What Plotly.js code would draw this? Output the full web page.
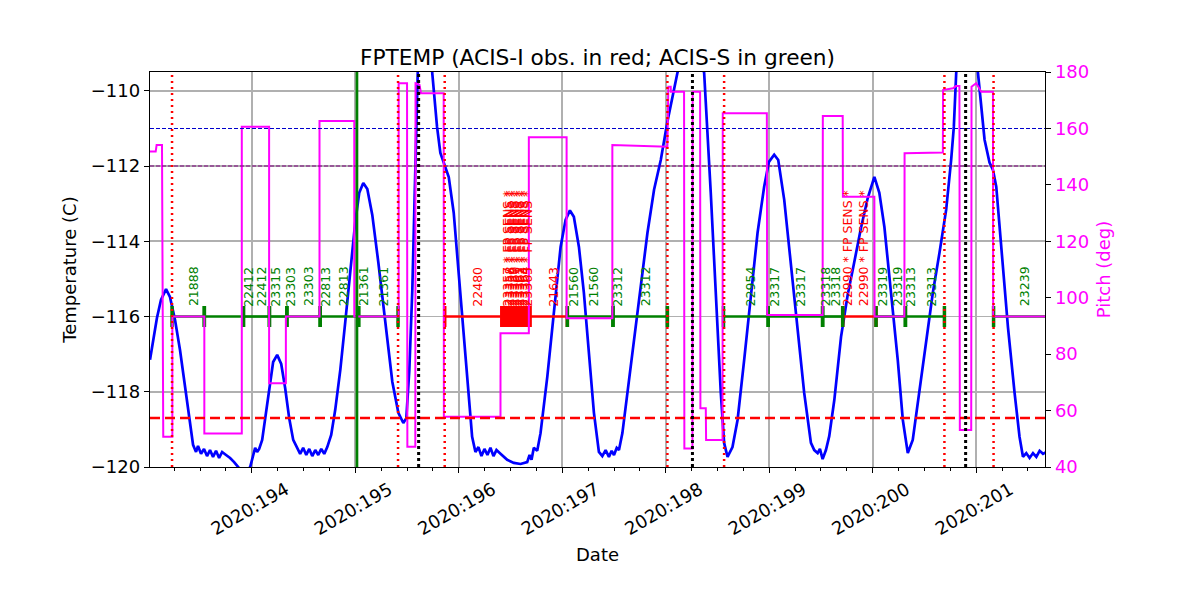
<!DOCTYPE html>
<html><head><meta charset="utf-8">
<script src="https://cdn.plot.ly/plotly-3.0.1.min.js"></script>
<style>body{margin:0;background:#fff}#chart{width:1200px;height:600px}</style>
</head><body><div id="chart"></div>
<script>
// ---- FPTEMP model (day of year 2020, deg C) ----
const tempDay = [193.016,193.045,193.083,193.122,193.171,193.209,193.258,193.306,193.354,193.403,193.432,
193.461,193.480,193.509,193.538,193.567,193.596,193.625,193.654,193.684,193.713,193.751,193.790,193.829,193.867,193.925,193.984,
194.013,194.032,194.051,194.071,194.100,194.138,194.177,194.206,194.245,194.284,194.322,194.361,194.400,194.438,
194.467,194.496,194.526,194.555,194.584,194.613,194.642,194.671,194.700,194.729,194.767,194.806,194.855,194.903,194.951,195.000,195.038,195.077,195.116,195.164,
195.222,195.290,195.358,195.416,195.464,195.493,195.522,195.551,195.580,195.609,195.668,195.716,195.745,195.790,195.822,195.871,195.903,195.951,196.016,196.081,196.129,196.161,
196.190,196.219,196.248,196.277,196.306,196.335,196.364,196.403,196.468,196.532,196.597,196.661,196.684,196.703,196.725,196.758,196.790,196.855,196.919,196.984,
197.032,197.074,197.112,197.161,197.209,197.258,197.306,197.354,
197.387,197.419,197.451,197.477,197.500,197.526,197.548,197.581,197.629,197.693,197.758,197.823,197.887,197.952,198.016,198.065,198.113,198.174,198.242,198.310,
198.371,198.435,198.484,198.532,198.564,198.597,198.645,198.694,198.758,198.823,198.887,198.951,198.997,199.048,199.087,199.145,199.210,199.275,199.338,199.403,
199.435,199.468,199.490,199.516,199.548,199.580,199.629,199.694,199.758,199.822,199.887,199.952,200.016,200.064,200.113,200.177,200.242,200.291,200.339,200.387,
200.451,200.516,200.581,200.645,200.710,200.758,200.784,200.807,200.855,200.913,200.971,201.017,201.049,201.081,201.129,201.162,201.194,201.242,201.307,201.371,
201.419,201.452,201.484,201.516,201.549,201.581,201.613,201.646,201.678];
const tempVal = [-117.15,-116.62,-116.04,-115.56,-115.27,-115.48,-116.09,-116.89,-117.82,-118.88,-119.41,
-119.60,-119.44,-119.65,-119.52,-119.71,-119.55,-119.73,-119.57,-119.76,-119.60,-119.68,-119.76,-119.87,-120.00,-120.19,-120.00,
-119.68,-119.49,-119.60,-119.52,-119.28,-118.54,-117.74,-117.21,-117.02,-117.26,-117.90,-118.70,-119.28,-119.49,
-119.65,-119.49,-119.68,-119.52,-119.71,-119.55,-119.68,-119.52,-119.65,-119.47,-119.15,-118.48,-117.42,-116.14,-114.76,-113.48,-112.71,-112.45,-112.61,-113.30,
-114.55,-116.22,-117.74,-118.56,-118.83,-118.70,-117.42,-115.29,-111.84,-108.91,-107.85,-108.64,-109.57,-110.96,-111.65,-112.05,-112.29,-113.24,-115.37,-117.61,-119.20,-119.60,
-119.47,-119.71,-119.52,-119.68,-119.49,-119.71,-119.55,-119.65,-119.81,-119.89,-119.92,-119.87,-119.68,-119.81,-119.49,-119.57,-119.10,-117.61,-115.82,-114.15,
-113.43,-113.18,-113.35,-114.15,-115.37,-116.97,-118.56,-119.60,
-119.71,-119.55,-119.73,-119.57,-119.68,-119.49,-119.55,-119.10,-118.03,-116.54,-115.11,-113.78,-112.63,-111.84,-110.82,-110.11,-109.52,-108.99,-108.78,-108.99,
-109.52,-112.71,-115.37,-118.03,-119.36,-119.73,-119.47,-118.75,-117.15,-115.37,-113.78,-112.55,-111.89,-111.70,-111.84,-112.90,-114.68,-116.44,-118.03,-119.36,
-119.55,-119.63,-119.52,-119.79,-119.55,-119.18,-118.22,-116.54,-115.43,-114.55,-113.64,-112.85,-112.29,-112.71,-113.62,-115.37,-117.15,-118.75,-119.63,-119.28,
-118.03,-116.70,-115.37,-114.31,-113.16,-111.84,-110.96,-109.52,-108.51,-108.11,-108.51,-109.52,-110.51,-111.30,-111.91,-112.10,-112.55,-114.04,-116.28,-118.03,
-119.20,-119.73,-119.63,-119.76,-119.63,-119.73,-119.57,-119.65,-119.60];

// ---- Pitch (deg) ----
const pitchDay = [193.016,193.071,193.080,193.132,193.144,193.232,193.232,193.541,193.541,193.903,193.903,194.167,194.167,194.329,194.329,194.654,194.654,194.990,194.990,
195.419,195.419,195.500,195.503,195.580,195.582,195.620,195.635,195.854,195.856,196.403,196.403,196.677,196.677,197.042,197.042,197.484,197.484,198.016,198.025,198.048,198.050,
198.177,198.180,198.258,198.260,198.332,198.335,198.387,198.390,198.549,198.551,198.977,198.980,199.516,199.518,199.710,199.712,200.016,200.018,200.306,200.308,200.678,200.680,
200.775,200.805,200.838,200.842,200.952,200.955,201.000,201.049,201.162,201.164,201.678];
const pitchVal = [151.8,151.8,154.1,154.1,50.7,50.7,93.3,93.3,51.9,51.9,160.6,160.6,69.7,69.7,93.3,93.3,162.6,162.6,93.3,
93.3,176.0,176.0,47.2,47.2,176.0,175.5,172.5,172.5,57.8,57.8,87.4,87.4,156.9,156.9,92.7,92.7,154.1,153.5,174.8,174.8,173.0,
173.0,46.6,46.6,173.0,173.0,60.8,60.8,49.6,49.6,165.4,165.4,93.9,93.9,164.4,164.4,135.8,135.8,93.3,93.3,151.2,151.5,173.6,
174.2,175.0,175.0,53.1,53.1,174.8,176.0,173.0,173.0,93.3,93.3];

// ---- Observations (I = ACIS-I red, S = ACIS-S green) ----
const obsStart = [193.229,193.541,193.919,194.170,194.339,194.661,195.032,
195.864,196.417,196.446,196.465,196.484,196.503,196.523,196.542,196.561,196.581,196.600,196.619,196.639,196.658,196.687,
197.049,197.490,198.558,198.990,199.516,199.710,200.032,200.316,201.168];
const obsStop = [193.541,193.919,194.170,194.339,194.661,195.032,195.413,
196.417,196.446,196.465,196.484,196.503,196.523,196.542,196.561,196.581,196.600,196.619,196.639,196.658,196.687,197.049,
197.490,198.016,198.990,199.516,199.710,200.032,200.316,200.693,201.800];
const obsInstr = ['S','S','S','S','S','S','S',
'I','I','I','I','I','I','I','I','I','I','I','I','I','I','I',
'S','S','S','S','S','I','S','S','S'];
const obsLevel = -116;

const labelDay = [193.437,193.967,194.097,194.225,194.371,194.548,194.709,194.887,195.080,195.268,
196.178,196.468,196.492,196.516,196.541,196.565,196.589,196.613,196.637,196.661,196.913,
197.107,197.306,197.532,197.806,198.823,199.048,199.300,199.548,199.645,199.758,199.913,
200.090,200.242,200.364,200.565,201.468];
const labelText = ['21888','22412','22412','23315','23303','23303','22813','22813','21361','21361',
'22480','23357 * FP SENS *','23358 * FP SENS *','23359 * FP SENS *','23360 * FP SENS *','23361 * FP SENS *','23362 * FP SENS *','23363 * FP SENS *','23364 * FP SENS *','23365 * FP SENS *','21643',
'21560','21560','23312','23312','22954','23317','23317','23318','23318','22990 * FP SENS *','22990 * FP SENS *',
'23319','23319','23313','23313','23239'];
const labelInstr = ['S','S','S','S','S','S','S','S','S','S',
'I','I','I','I','I','I','I','I','I','I','I',
'S','S','S','S','S','S','S','S','S','I','I',
'S','S','S','S','S'];

// ---- Reference lines ----
const redDottedDays = [193.229,195.413,195.864,198.016,198.564,200.693,201.168];
const blackDottedDays = [195.612,198.258,200.898];
const greenSolidDays = [195.016];
const planningLimit = -118.7;
const blueLimit = -111.0;
const purpleLimit = -112.0;

const tickDays = [194,195,196,197,198,199,200,201];
const tickLabels = ['2020:194','2020:195','2020:196','2020:197','2020:198','2020:199','2020:200','2020:201'];

const COL = {S:'#008000', I:'#ff0000'};
const FONT = 'DejaVu Sans';

function segTrace(instr){
  const x=[], y=[];
  obsStart.forEach((s,i)=>{ if(obsInstr[i]===instr){ x.push(s,obsStop[i],null); y.push(obsLevel,obsLevel,null);} });
  return {x, y, xaxis:'x', yaxis:'y', mode:'lines+markers', type:'scatter', hoverinfo:'skip',
    line:{color:COL[instr], width:2.7},
    marker:{symbol:'line-ns', size:15, color:COL[instr], line:{color:COL[instr], width:3.5}}};
}

const traces = [
  {x:tempDay, y:tempVal, xaxis:'x', yaxis:'y', type:'scatter', mode:'lines', line:{color:'#0000ff', width:2.7}},
  segTrace('I'), segTrace('S'),
  {x:pitchDay, y:pitchVal, xaxis:'x', yaxis:'y2', type:'scatter', mode:'lines', line:{color:'#ff00ff', width:2}}
];

const shapes = [];
const hline=(v,color,w,dash)=>shapes.push({type:'line', xref:'paper', x0:0, x1:1, yref:'y', y0:v, y1:v, line:{color, width:w, dash}});
hline(planningLimit,'#ff0000',2.5,'10px,5px');
hline(blueLimit,'#0000cc',1.1,'4px,2px');
hline(purpleLimit,'#800080',1.1,'4px,2px');
redDottedDays.forEach(d=>shapes.push({type:'line', xref:'x', x0:d, x1:d, yref:'paper', y0:0, y1:1, line:{color:'#ff0000', width:2.5, dash:'2px,4px'}}));
blackDottedDays.forEach(d=>shapes.push({type:'line', xref:'x', x0:d, x1:d, yref:'paper', y0:0, y1:1, line:{color:'#000000', width:3, dash:'3px,3px'}}));
greenSolidDays.forEach(d=>shapes.push({type:'line', xref:'x', x0:d, x1:d, yref:'paper', y0:0, y1:1, line:{color:'#008000', width:2.7}}));

const annotations = labelDay.map((d,i)=>({x:d, y:obsLevel, xref:'x', yref:'y', text:labelText[i], textangle:-90,
  showarrow:false, xanchor:'center', yanchor:'bottom', yshift:9, borderpad:0,
  font:{family:FONT, size:12.5, color:COL[labelInstr[i]]}}));

const layout = {
  width:1200, height:600, paper_bgcolor:'#fff', plot_bgcolor:'#fff', showlegend:false,
  margin:{l:150, r:155, t:72, b:133},
  font:{family:FONT, size:18, color:'#000'},
  title:{text:'FPTEMP (ACIS-I obs. in red; ACIS-S in green)', font:{family:FONT, size:21.7, color:'#000'},
    xref:'paper', x:0.5, xanchor:'center', yref:'container', y:0.905, yanchor:'middle'},
  xaxis:{range:[193.016,201.665], tickmode:'array', tickvals:tickDays, ticktext:tickLabels, tickangle:-30,
    ticklabelshift:34, ticklabelstandoff:-1,
    ticks:'outside', ticklen:5, tickwidth:1, tickcolor:'#000',
    minor:{dtick:0.25, tick0:194, ticks:'outside', ticklen:3, tickwidth:1, tickcolor:'#000', showgrid:false},
    showgrid:true, gridcolor:'#b0b0b0', gridwidth:1.6, zeroline:false,
    showline:true, linecolor:'#000', linewidth:1.3, mirror:true, automargin:false,
    title:{text:'Date', font:{size:18}, standoff:10}},
  yaxis:{range:[-120,-109.5], tickmode:'array', tickvals:[-120,-118,-116,-114,-112,-110],
    ticks:'outside', ticklen:5, tickcolor:'#000', showgrid:true, gridcolor:'#b0b0b0', gridwidth:1.6, zeroline:false,
    showline:true, linecolor:'#000', linewidth:1.3, mirror:true, automargin:false,
    title:{text:'Temperature (C)', font:{size:18}, standoff:9}},
  yaxis2:{range:[40,180], overlaying:'y', side:'right', tickmode:'array', tickvals:[40,60,80,100,120,140,160,180],
    ticks:'outside', ticklen:5, tickcolor:'#000', tickfont:{color:'#ff00ff', size:18}, showgrid:false, zeroline:false,
    showline:true, linecolor:'#000', linewidth:1.3, automargin:false,
    title:{text:'Pitch (deg)', font:{size:18, color:'#ff00ff'}, standoff:9}},
  shapes, annotations
};

Plotly.newPlot('chart', traces, layout, {displayModeBar:false, staticPlot:true});
</script>
</body></html>
